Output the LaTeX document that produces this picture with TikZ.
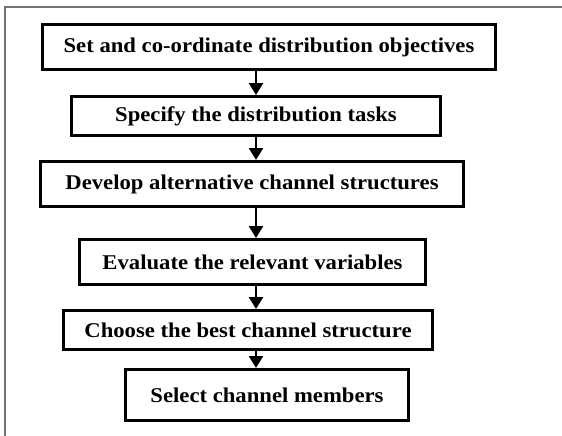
\documentclass[tikz,border=0pt]{standalone}
\usepackage{fontspec}
\setmainfont{Liberation Serif}[FakeStretch=1.08]
\usetikzlibrary{arrows.meta}
\begin{document}
\begin{tikzpicture}[x=1pt,y=-1pt,
  stagebox/.style={draw=black, line width=3pt, fill=white, inner sep=0pt,
    font=\bfseries\fontsize{21}{25}\selectfont, text=black},
  flow/.style={line width=2.6pt, -{Triangle[width=14pt,length=12pt]}},
  frame/.style={draw=black!55, line width=2pt}]
  \useasboundingbox (0,0) rectangle (562,436);
  % outer frame, open to the right and bottom
  \draw[frame] (5,436) -- (5,7) -- (562,7);

  % planning stages
  \node[stagebox, minimum width=453pt, minimum height=45pt] (s1) at (269,47)
    {Set and co-ordinate distribution objectives};
  \node[stagebox, minimum width=369pt, minimum height=39pt] (s2) at (256,116)
    {Specify the distribution tasks};
  \node[stagebox, minimum width=423pt, minimum height=45pt] (s3) at (252,184)
    {Develop alternative channel structures};
  \node[stagebox, minimum width=346pt, minimum height=45pt] (s4) at (252.5,262)
    {Evaluate the relevant variables};
  \node[stagebox, minimum width=369pt, minimum height=39pt] (s5) at (248,330)
    {Choose the best channel structure};
  \node[stagebox, minimum width=283pt, minimum height=51pt] (s6) at (267,395)
    {Select channel members};

  % flow between stages
  \coordinate (ax) at (256,0);
  \draw[flow] (s1.south -| ax) -- (s2.north -| ax);
  \draw[flow] (s2.south -| ax) -- (s3.north -| ax);
  \draw[flow] (s3.south -| ax) -- (s4.north -| ax);
  \draw[flow] (s4.south -| ax) -- (s5.north -| ax);
  \draw[flow] (s5.south -| ax) -- (s6.north -| ax);
\end{tikzpicture}
\end{document}
